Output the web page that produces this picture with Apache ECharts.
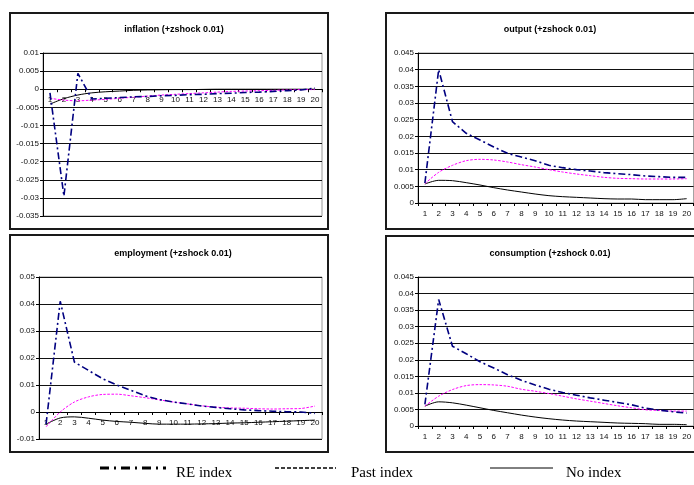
<!DOCTYPE html>
<html>
<head>
<meta charset="utf-8">
<script src="https://cdn.jsdelivr.net/npm/echarts@6/dist/echarts.min.js"></script>
<style>
html,body{margin:0;padding:0;background:#fff;}
#c{width:694px;height:485px;}
</style>
</head>
<body>
<div id="c"></div>
<script>
const categories = ['1','2','3','4','5','6','7','8','9','10','11','12','13','14','15','16','17','18','19','20'];
const seriesNames = ['RE index','Past index','No index'];
const panelTitles = ['inflation (+zshock 0.01)','output (+zshock 0.01)','employment (+zshock 0.01)','consumption (+zshock 0.01)'];

const inflationRE   = [-0.001,-0.0295,0.0044,-0.0027,-0.0025,-0.0023,-0.0021,-0.002,-0.0018,-0.0017,-0.0015,-0.0014,-0.0012,-0.0011,-0.0009,-0.0008,-0.0006,-0.0004,-0.0002,0.0003];
const inflationPast = [-0.0025,-0.003,-0.0032,-0.003,-0.0028,-0.0025,-0.0022,-0.0019,-0.0016,-0.0014,-0.0012,-0.001,-0.0008,-0.0006,-0.0005,-0.0004,-0.0003,-0.0002,-0.0001,-0.0001];
const inflationNo   = [-0.0041,-0.0026,-0.0016,-0.001,-0.0007,-0.0005,-0.0003,-0.0002,-0.00015,-0.0001,-0.0001,-0.00005,0,0,0,0,0,0,0,0];

const outputRE   = [0.006,0.040,0.0244,0.0209,0.0189,0.0168,0.0149,0.0138,0.0127,0.0113,0.0106,0.0100,0.0096,0.0091,0.0088,0.0085,0.0081,0.0079,0.0077,0.0077];
const outputPast = [0.0058,0.0092,0.0113,0.0127,0.0131,0.0129,0.0123,0.0115,0.0108,0.0100,0.0093,0.0087,0.0082,0.0077,0.0074,0.0073,0.0072,0.0072,0.0072,0.0073];
const outputNo   = [0.0057,0.0068,0.0067,0.0061,0.0054,0.0046,0.0039,0.0033,0.0027,0.0022,0.0019,0.0017,0.0015,0.0013,0.0012,0.0012,0.0010,0.0010,0.0010,0.0013];

const employmentRE   = [-0.0045,0.041,0.0185,0.0154,0.0123,0.010,0.008,0.006,0.0046,0.0037,0.003,0.0022,0.0017,0.0012,0.0008,0.0005,0.0003,0.0001,0,-0.0005];
const employmentPast = [-0.0055,0.0,0.0037,0.0056,0.0065,0.0066,0.006,0.0053,0.0045,0.0037,0.003,0.0023,0.0018,0.0015,0.0014,0.0012,0.0011,0.0012,0.0013,0.0022];
const employmentNo   = [-0.0045,-0.0022,-0.0018,-0.0023,-0.003,-0.0035,-0.0038,-0.0042,-0.0045,-0.0045,-0.0045,-0.0044,-0.0043,-0.0041,-0.004,-0.0038,-0.0036,-0.0034,-0.0032,-0.003];

const consumptionRE   = [0.0065,0.0382,0.0241,0.0218,0.0194,0.0175,0.0155,0.0138,0.0124,0.0111,0.0101,0.0093,0.0085,0.0078,0.0071,0.0064,0.0054,0.0048,0.0043,0.0039];
const consumptionPast = [0.006,0.009,0.011,0.0122,0.0125,0.0124,0.012,0.0111,0.0105,0.0098,0.009,0.0082,0.0075,0.0068,0.0061,0.0055,0.0049,0.0047,0.0045,0.0045];
const consumptionNo   = [0.006,0.0073,0.007,0.0063,0.0055,0.0047,0.004,0.0033,0.0027,0.0022,0.0018,0.0015,0.0013,0.0011,0.0009,0.0008,0.0007,0.0005,0.0005,0.0004];

const yMin = [-0.035, 0, -0.01, 0];
const yMax = [0.01, 0.045, 0.05, 0.045];
const yStep = [0.005, 0.005, 0.01, 0.005];

const panelData = [
  [inflationRE, inflationPast, inflationNo],
  [outputRE, outputPast, outputNo],
  [employmentRE, employmentPast, employmentNo],
  [consumptionRE, consumptionPast, consumptionNo]
];

const grids = [
  {left: 43, top: 53, width: 279, height: 163},
  {left: 418, top: 53, width: 282, height: 150},
  {left: 39, top: 277, width: 283, height: 162},
  {left: 418, top: 277, width: 282, height: 149}
];
const boxes = [
  {x: 10, y: 13, w: 318, h: 216},
  {x: 386, y: 13, w: 320, h: 216},
  {x: 10, y: 235, w: 318, h: 217},
  {x: 386, y: 236, w: 320, h: 216}
];
const titleCenters = [[169, 20], [545, 20], [168, 244], [545, 244]];

const lineStyles = [
  {color: '#000080', width: 1.6, type: [7, 3, 2, 3]},
  {color: '#ff00ff', width: 1, type: [2.5, 1.5]},
  {color: '#000000', width: 1, type: 'solid'}
];
const legendIcons = [
  {x1: 100, x2: 166, width: 3, dash: [9, 5, 2, 5]},
  {x1: 275, x2: 336, width: 1.3, dash: [4, 2]},
  {x1: 490, x2: 553, width: 1, dash: null}
];
const legendLefts = [100, 275, 490];
const legendY = 469;

const fmt = v => String(+v.toFixed(4));
const fontSans = 'Liberation Sans, Arial, sans-serif';

const option = {
  backgroundColor: '#fff',
  animation: false,
  title: panelTitles.map((t, i) => ({
    text: t, left: titleCenters[i][0], top: titleCenters[i][1], textAlign: 'center',
    textStyle: {fontFamily: fontSans, fontSize: 9, fontWeight: 'bold', color: '#000'}
  })),
  grid: grids.map(g => Object.assign({show: true, borderColor: '#9a9a9a', borderWidth: 1, backgroundColor: 'transparent'}, g)),
  xAxis: grids.map((g, i) => ({
    type: 'category', gridIndex: i, data: categories, boundaryGap: true,
    offset: -g.height * (0 - yMin[i]) / (yMax[i] - yMin[i]),
    axisLine: {show: true, onZero: false, lineStyle: {color: '#000', width: 1}},
    axisTick: {show: true, length: 3, inside: false, lineStyle: {color: '#000'}},
    axisLabel: {fontFamily: fontSans, fontSize: 8, color: '#111', margin: 7, interval: 0},
    splitLine: {show: false}
  })),
  yAxis: grids.map((g, i) => ({
    type: 'value', gridIndex: i, min: yMin[i], max: yMax[i], interval: yStep[i],
    axisLine: {show: true, lineStyle: {color: '#000', width: 1}},
    axisTick: {show: true, length: 3, lineStyle: {color: '#000'}},
    axisLabel: {fontFamily: fontSans, fontSize: 8, color: '#111', margin: 4, formatter: fmt},
    splitLine: {show: true, lineStyle: {color: '#111', width: 1}}
  })),
  legend: seriesNames.map((n, k) => ({
    left: legendLefts[k], top: legendY - 8, itemWidth: 66, itemHeight: 14, itemGap: 10,
    selectedMode: false,
    textStyle: {fontFamily: 'Liberation Serif, Times New Roman, serif', fontSize: 15, color: '#000'},
    data: [{name: n, icon: 'none'}]
  })),
  graphic: boxes.map(b => ({
    type: 'rect', silent: true, z: -10,
    shape: {x: b.x, y: b.y, width: b.w, height: b.h},
    style: {fill: 'none', stroke: '#1a1a1a', lineWidth: 2}
  })).concat(legendIcons.map(l => ({
    type: 'line', silent: true,
    shape: {x1: l.x1, y1: legendY - 1, x2: l.x2, y2: legendY - 1},
    style: {stroke: '#000', lineWidth: l.width, lineDash: l.dash}
  }))),
  series: []
};

panelData.forEach((arrs, i) => {
  arrs.forEach((d, k) => {
    option.series.push({
      name: seriesNames[k], type: 'line', xAxisIndex: i, yAxisIndex: i,
      data: d, symbol: 'none', smooth: k === 0 ? false : 0.3,
      lineStyle: lineStyles[k], z: 5 - k
    });
  });
});

const chart = echarts.init(document.getElementById('c'), null, {renderer: 'canvas'});
chart.setOption(option);
</script>
</body>
</html>
